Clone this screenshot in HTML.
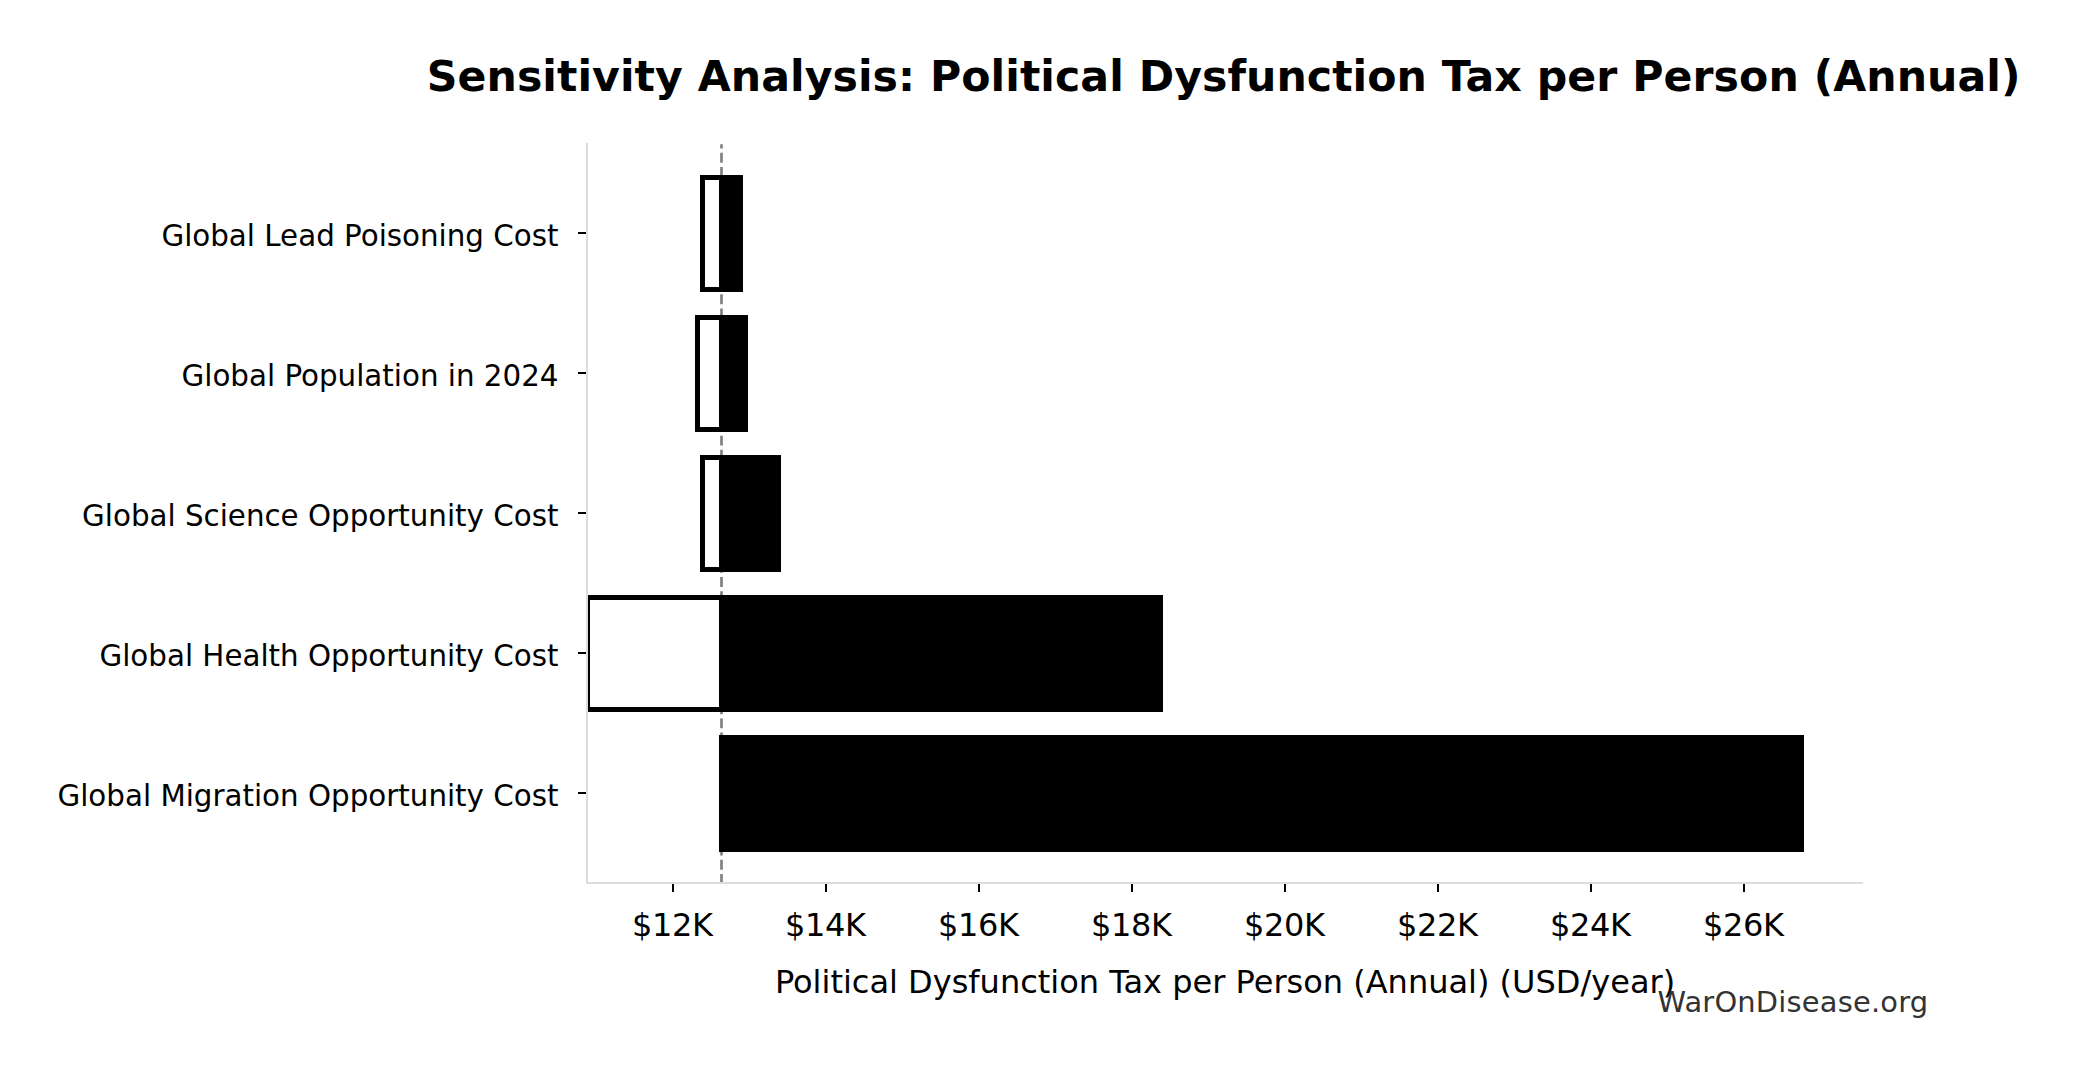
<!DOCTYPE html>
<html lang="en">
<head>
<meta charset="utf-8">
<title>Sensitivity Analysis: Political Dysfunction Tax per Person (Annual)</title>
<style>
html,body{margin:0;padding:0;background:#fff;}
body{width:2078px;height:1075px;overflow:hidden;}
svg{display:block;}
text{font-family:"DejaVu Sans","Liberation Sans",sans-serif;fill:#000;}
.t{font-size:42.667px;font-weight:bold;}
.yl{font-size:29.333px;text-anchor:end;}
.xl{font-size:32px;text-anchor:middle;}
.ax{font-size:32px;text-anchor:middle;}
.wm{font-size:28.9px;fill:#333;}
</style>
</head>
<body>
<svg width="2078" height="1075" viewBox="0 0 2078 1075">
<rect x="0" y="0" width="2078" height="1075" fill="#fff"/>

<!-- baseline dashed line -->
<line x1="721.5" y1="883.87" x2="721.5" y2="144.3" stroke="#808080" stroke-width="2.67" stroke-dasharray="9.87 4.27"/>

<g shape-rendering="crispEdges">
<!-- white (low) bars -->
<rect x="700" y="175" width="22" height="117" fill="#000"/><rect x="705" y="180" width="14" height="107" fill="#fff"/>
<rect x="695" y="315" width="27" height="117" fill="#000"/><rect x="700" y="320" width="19" height="107" fill="#fff"/>
<rect x="700" y="455" width="22" height="117" fill="#000"/><rect x="705" y="460" width="14" height="107" fill="#fff"/>
<rect x="588" y="595" width="134" height="117" fill="#000"/><rect x="590" y="600" width="129" height="107" fill="#fff"/>
<!-- black (high) bars -->
<rect x="719" y="175" width="24" height="117" fill="#000"/>
<rect x="719" y="315" width="29" height="117" fill="#000"/>
<rect x="719" y="455" width="62" height="117" fill="#000"/>
<rect x="719" y="595" width="444" height="117" fill="#000"/>
<rect x="719" y="735" width="1085" height="117" fill="#000"/>

<!-- ticks -->
<rect x="578" y="232" width="8" height="2" fill="#000"/>
<rect x="578" y="372" width="8" height="2" fill="#000"/>
<rect x="578" y="512" width="8" height="2" fill="#000"/>
<rect x="578" y="652" width="8" height="2" fill="#000"/>
<rect x="578" y="792" width="8" height="2" fill="#000"/>
<rect x="672" y="884" width="2" height="8" fill="#000"/>
<rect x="825" y="884" width="2" height="8" fill="#000"/>
<rect x="978" y="884" width="2" height="8" fill="#000"/>
<rect x="1131" y="884" width="2" height="8" fill="#000"/>
<rect x="1284" y="884" width="2" height="8" fill="#000"/>
<rect x="1437" y="884" width="2" height="8" fill="#000"/>
<rect x="1590" y="884" width="2" height="8" fill="#000"/>
<rect x="1743" y="884" width="2" height="8" fill="#000"/>

<!-- spines -->
<rect x="586" y="143" width="2" height="741" fill="#ddd"/>
<rect x="586" y="882" width="1277" height="2" fill="#ddd"/>
</g>

<text class="t" x="1223.6" y="90.8" text-anchor="middle" textLength="1593.7" lengthAdjust="spacing">Sensitivity Analysis: Political Dysfunction Tax per Person (Annual)</text>

<text class="yl" x="558.5" y="245.6">Global Lead Poisoning Cost</text>
<text class="yl" x="558.5" y="385.6">Global Population in 2024</text>
<text class="yl" x="558.5" y="525.6">Global Science Opportunity Cost</text>
<text class="yl" x="558.5" y="665.6">Global Health Opportunity Cost</text>
<text class="yl" x="558.5" y="805.6">Global Migration Opportunity Cost</text>

<text class="xl" x="672.4" y="936.2" textLength="81">$12K</text>
<text class="xl" x="825.4" y="936.2" textLength="81">$14K</text>
<text class="xl" x="978.4" y="936.2" textLength="81">$16K</text>
<text class="xl" x="1131.4" y="936.2" textLength="81">$18K</text>
<text class="xl" x="1284.4" y="936.2" textLength="81">$20K</text>
<text class="xl" x="1437.4" y="936.2" textLength="81">$22K</text>
<text class="xl" x="1590.4" y="936.2" textLength="81">$24K</text>
<text class="xl" x="1743.4" y="936.2" textLength="81">$26K</text>

<text class="ax" x="1225" y="993.4">Political Dysfunction Tax per Person (Annual) (USD/year)</text>
<text class="wm" x="1657.5" y="1011.9" textLength="270.6">WarOnDisease.org</text>
</svg>
</body>
</html>
